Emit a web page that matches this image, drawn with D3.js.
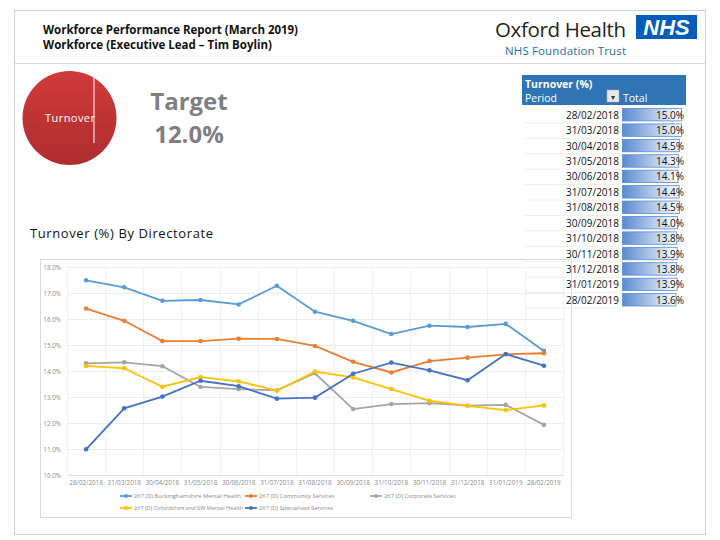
<!DOCTYPE html>
<html>
<head>
<meta charset="utf-8">
<script src="https://cdn.jsdelivr.net/npm/d3@7"></script>
<style>
html,body{margin:0;padding:0;background:#fff;}
svg{display:block;font-family:"Open Sans",sans-serif;}
</style>
</head>
<body>
<svg id="c" width="720" height="540"></svg>
<script>
// ---- data ----
const periods = ["28/02/2018","31/03/2018","30/04/2018","31/05/2018","30/06/2018","31/07/2018","31/08/2018","30/09/2018","31/10/2018","30/11/2018","31/12/2018","31/01/2019","28/02/2019"];
const seriesNames = ["267 (D) Buckinghamshire Mental Health","267 (D) Community Services","267 (D) Corporate Services","267 (D) Oxfordshire and SW Mental Health","267 (D) Specialised Services"];
const bucks       = [17.50,17.23,16.71,16.74,16.57,17.29,16.29,15.94,15.43,15.75,15.70,15.82,14.78];
const community   = [16.41,15.94,15.16,15.16,15.25,15.24,14.97,14.36,13.95,14.39,14.52,14.65,14.69];
const corporate   = [14.30,14.34,14.19,13.39,13.31,13.26,13.92,12.54,12.73,12.77,12.67,12.70,11.93];
const oxon        = [14.20,14.11,13.40,13.77,13.61,13.25,13.98,13.76,13.31,12.86,12.66,12.50,12.68];
const specialised = [10.99,12.57,13.02,13.63,13.42,12.94,12.98,13.90,14.33,14.03,13.65,14.66,14.21];
const totals      = [15.0,15.0,14.5,14.3,14.1,14.4,14.5,14.0,13.8,13.9,13.8,13.9,13.6];
const yTicks      = [10,11,12,13,14,15,16,17,18];
const colors      = ["#5B9BD5","#ED7D31","#A5A5A5","#FFC000","#4472C4"];
const targetLabel = "Target";
const targetValue = "12.0%";

const svg = d3.select("#c");
const defs = svg.append("defs");

// page frame
svg.append("rect").attr("x",14.5).attr("y",10.5).attr("width",691).attr("height",524)
  .attr("fill","none").attr("stroke","#d0d0d0");
svg.append("line").attr("x1",14).attr("x2",706).attr("y1",63.5).attr("y2",63.5).attr("stroke","#d8d8d8");

// titles
svg.append("text").attr("x",43).attr("y",34).attr("font-size",11.5).attr("font-weight","bold")
  .attr("fill","#111").attr("textLength",255)
  .text("Workforce Performance Report (March 2019)");
svg.append("text").attr("x",43).attr("y",48.5).attr("font-size",11.5).attr("font-weight","bold")
  .attr("fill","#111").attr("textLength",229)
  .text("Workforce (Executive Lead \u2013 Tim Boylin)");

// logo
svg.append("text").attr("x",495).attr("y",37).attr("font-size",20.5)
  .attr("fill","#231f20").attr("textLength",131).text("Oxford Health");
svg.append("rect").attr("x",636).attr("y",15).attr("width",61).attr("height",24).attr("fill","#005EB8");
svg.append("text").attr("x",666.5).attr("y",35).attr("text-anchor","middle").attr("font-size",22)
  .attr("font-weight","bold").attr("font-style","italic").attr("font-family","'Liberation Sans',Arial,sans-serif")
  .attr("fill","#fff").text("NHS");
svg.append("text").attr("x",505).attr("y",55).attr("font-size",11.5)
  .attr("fill","#2a6ea6").attr("textLength",121).text("NHS Foundation Trust");

// pie
const pg = defs.append("linearGradient").attr("id","pieGrad").attr("x1",0).attr("y1",0).attr("x2",0).attr("y2",1);
pg.append("stop").attr("offset","0%").attr("stop-color","#D03A3A");
pg.append("stop").attr("offset","100%").attr("stop-color","#AE2D2F");
const pie = d3.pie().sort(null)([1]);
const arc = d3.arc().innerRadius(0).outerRadius(47);
svg.append("g").attr("transform","translate(69.5,118)").selectAll("path").data(pie).join("path")
  .attr("d",arc).attr("fill","url(#pieGrad)");
svg.append("line").attr("x1",94).attr("x2",94).attr("y1",78).attr("y2",143).attr("stroke","#fff").attr("stroke-width",1);
svg.append("text").attr("x",70).attr("y",122).attr("text-anchor","middle").attr("font-size",11)
  .attr("fill","#fff").attr("textLength",50).text("Turnover");

svg.append("text").attr("x",189).attr("y",110).attr("text-anchor","middle").attr("font-size",24)
  .attr("font-weight","bold").attr("fill","#7f7f7f").text(targetLabel);
svg.append("text").attr("x",189).attr("y",143).attr("text-anchor","middle").attr("font-size",24)
  .attr("font-weight","bold").attr("fill","#7f7f7f").text(targetValue);

svg.append("text").attr("x",30).attr("y",238).attr("font-size",13).attr("fill","#111")
  .attr("textLength",183).text("Turnover (%) By Directorate");

// ---- line chart ----
svg.append("rect").attr("x",40.5).attr("y",259.5).attr("width",531).attr("height",258)
  .attr("fill","#fff").attr("stroke","#d9d9d9");
const pL = 67, pR = 563, pT = 267.3, pB = 475;
const x = d3.scaleBand().domain(periods).range([pL,pR]);
const y = d3.scaleLinear().domain([10,18]).range([pB,pT]);
const cx = d => x(d)+x.bandwidth()/2;

const g = svg.append("g");
g.selectAll(".hg").data(yTicks).join("line").attr("x1",pL).attr("x2",pR)
  .attr("y1",d=>Math.round(y(d))+0.5).attr("y2",d=>Math.round(y(d))+0.5).attr("stroke","#ececec");
g.selectAll(".vg").data(periods.concat([null])).join("line")
  .attr("x1",(d,i)=>Math.round(pL+i*x.bandwidth())+0.5).attr("x2",(d,i)=>Math.round(pL+i*x.bandwidth())+0.5)
  .attr("y1",pT).attr("y2",pB).attr("stroke","#f0f0f0");

const yAxis = d3.axisLeft(y).tickValues(yTicks).tickFormat(d=>d.toFixed(1)+"%").tickSize(0).tickPadding(6);
const ya = g.append("g").attr("transform",`translate(${pL},0)`).call(yAxis);
ya.select(".domain").remove();
ya.selectAll("text").attr("font-size",6.3).attr("fill","#8a8a8a").attr("font-family","'Open Sans',sans-serif");

const xAxis = d3.axisBottom(x).tickSize(0).tickPadding(6);
const xa = g.append("g").attr("transform",`translate(0,${pB})`).call(xAxis);
xa.select(".domain").attr("stroke","#e0e0e0");
xa.selectAll("text").attr("font-size",6.3).attr("fill","#8a8a8a").attr("font-family","'Open Sans',sans-serif");

const allSeries = [bucks,community,corporate,oxon,specialised];
const line = d3.line().x((d,i)=>cx(periods[i])).y(d=>y(d));
allSeries.forEach((s,k)=>{
  const sg = g.append("g");
  sg.append("path").datum(s).attr("d",line).attr("fill","none").attr("stroke",colors[k]).attr("stroke-width",1.8);
  sg.selectAll("circle").data(s).join("circle").attr("cx",(d,i)=>cx(periods[i])).attr("cy",d=>y(d))
    .attr("r",2.3).attr("fill",colors[k]);
});

// legend
const legPos = [[120,496],[245,496],[370,496],[120,508],[245,508]];
const lg = g.append("g").selectAll("g").data(seriesNames).join("g")
  .attr("transform",(d,i)=>`translate(${legPos[i][0]},${legPos[i][1]})`);
lg.append("line").attr("x1",0).attr("x2",12).attr("stroke",(d,i)=>colors[i]).attr("stroke-width",1.8);
lg.append("circle").attr("cx",6).attr("r",2).attr("fill",(d,i)=>colors[i]);
lg.append("text").attr("x",14).attr("y",2.2).attr("font-size",5.8).attr("fill","#8a8a8a")
  .attr("font-family","'Open Sans',sans-serif").text(d=>d)
  .each(function(d,i){
    const maxW = (i===3 ? 109 : (i===4 ? 100 : 108));
    if (this.getComputedTextLength() > maxW) d3.select(this).attr("textLength",maxW).attr("lengthAdjust","spacingAndGlyphs");
  });

// ---- table (drawn over chart) ----
const tX = 522, tW = 164;
svg.append("rect").attr("x",tX).attr("y",75).attr("width",tW).attr("height",30).attr("fill","#2F75B5");
svg.append("text").attr("x",525).attr("y",88).attr("font-size",10.5).attr("font-weight","bold").attr("fill","#fff")
  .text("Turnover (%)");
svg.append("text").attr("x",525).attr("y",102).attr("font-size",10.5).attr("fill","#fff")
  .text("Period");
svg.append("rect").attr("x",607).attr("y",90).attr("width",12).attr("height",12).attr("fill","#e8e8e8").attr("stroke","#aaa").attr("stroke-width",0.5);
svg.append("text").attr("x",613).attr("y",100).attr("text-anchor","middle").attr("font-size",8).attr("fill","#333").text("\u25BE");
svg.append("text").attr("x",623).attr("y",102).attr("font-size",10.5).attr("fill","#fff")
  .text("Total");

const rowY = d3.scaleBand().domain(periods).range([107,307.5]);
const barW = d3.scaleLinear().domain([0,15]).range([0,59]);
const bg = defs.append("linearGradient").attr("id","barGrad").attr("x1",0).attr("y1",0).attr("x2",1).attr("y2",0);
bg.append("stop").attr("offset","0%").attr("stop-color","#5A8AD0");
bg.append("stop").attr("offset","100%").attr("stop-color","#ffffff");
const rows = svg.append("g").selectAll("g").data(periods).join("g")
  .attr("transform",d=>`translate(0,${rowY(d)})`);
rows.append("line").attr("x1",525).attr("x2",620).attr("y1",rowY.bandwidth()+0.5).attr("y2",rowY.bandwidth()+0.5)
  .attr("stroke","#eeeeee");
rows.append("rect").attr("x",622.5).attr("y",1.5).attr("height",rowY.bandwidth()-3)
  .attr("width",(d,i)=>barW(totals[i])).attr("fill","url(#barGrad)").attr("stroke","#5A8AD0").attr("stroke-width",0.8);
rows.append("text").attr("x",619).attr("y",rowY.bandwidth()/2+4).attr("text-anchor","end").attr("font-size",10)
  .attr("fill","#111").text(d=>d);
rows.append("text").attr("x",684).attr("y",rowY.bandwidth()/2+4).attr("text-anchor","end").attr("font-size",10)
  .attr("fill","#111").text((d,i)=>totals[i].toFixed(1)+"%");
</script>
</body>
</html>
